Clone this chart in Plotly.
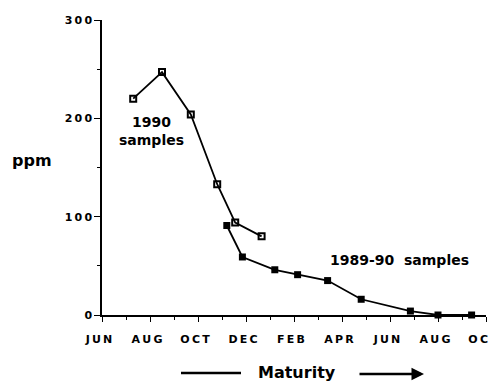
import plotly.graph_objects as go

# month index: 0 = JUN (first season), 16 = OCT (following year)
tick_months = [0, 2, 4, 6, 8, 10, 12, 14, 16]
tick_labels = ["JUN", "AUG", "OCT", "DEC", "FEB", "APR", "JUN", "AUG", "OCT"]
y_ticks = [0, 100, 200, 300]

x_1990 = [1.3, 2.5, 3.7, 4.8, 5.55, 6.65]
y_1990 = [220, 247, 204, 133, 94, 80]

x_8990 = [5.2, 5.85, 7.2, 8.15, 9.4, 10.8, 12.85, 14.0, 15.4]
y_8990 = [91, 59, 46, 41, 35, 16, 4, 0, 0]

FONT = "DejaVu Sans"
TS = "\u2009"

def spaced(s):
    return TS.join(list(s))

fig = go.Figure()
fig.add_trace(go.Scatter(
    x=x_1990, y=y_1990, mode="lines+markers",
    line=dict(color="black", width=1.8),
    marker=dict(symbol="square-open", size=6, color="black", line=dict(width=2, color="black")),
    cliponaxis=False, showlegend=False))
fig.add_trace(go.Scatter(
    x=x_8990, y=y_8990, mode="lines+markers",
    line=dict(color="black", width=1.8),
    marker=dict(symbol="square", size=7, color="black"),
    cliponaxis=False, showlegend=False))

# page body has an 8px margin, so the figure is sized to fit the window
fig.update_layout(
    width=489, height=373,
    margin=dict(l=94, r=11, t=12, b=66),
    paper_bgcolor="white", plot_bgcolor="white",
    font=dict(family=FONT, color="black"),
)
fig.update_xaxes(
    range=[0, 16], showgrid=False, zeroline=False, automargin=False,
    showline=True, linecolor="black", linewidth=1.5,
    tickmode="array", tickvals=tick_months, ticktext=[spaced(t) for t in tick_labels],
    ticks="outside", ticklen=5, tickwidth=1.2, tickcolor="black",
    ticklabelstandoff=8, ticklabelshift=-3, ticklabeloverflow="allow",
    tickfont=dict(family=FONT, size=11, color="black", weight="bold"),
    minor=dict(tickvals=[1, 3, 5, 7, 9, 11, 13, 15], ticks="outside", ticklen=3, tickwidth=1, tickcolor="black"),
)
fig.update_yaxes(
    range=[0, 300], showgrid=False, zeroline=False, automargin=False,
    showline=True, linecolor="black", linewidth=1.5,
    tickmode="array", tickvals=y_ticks, ticktext=[spaced(str(v)) for v in y_ticks],
    ticks="outside", ticklen=6, tickwidth=1.2, tickcolor="black",
    tickfont=dict(family=FONT, size=11, color="black", weight="bold"),
    minor=dict(tickvals=[50, 150, 250], ticks="outside", ticklen=3, tickwidth=1, tickcolor="black"),
)

fig.add_annotation(x=2.08, y=187, xref="x", yref="y", text="1990<br>samples",
                   xanchor="center", yanchor="middle",
                   showarrow=False, font=dict(family=FONT, size=14, weight="bold"))
fig.add_annotation(x=12.4, y=56, xref="x", yref="y", text="1989-90  samples",
                   xanchor="center", yanchor="middle",
                   showarrow=False, font=dict(family=FONT, size=14, weight="bold"))
fig.add_annotation(x=-0.182, y=0.523, xref="paper", yref="paper", text="ppm",
                   xanchor="center", yanchor="middle",
                   showarrow=False, font=dict(family=FONT, size=16, weight="bold"))
fig.add_annotation(x=0.508, y=-0.194, xref="paper", yref="paper", text="Maturity",
                   xanchor="center", yanchor="middle",
                   showarrow=False, font=dict(family=FONT, size=16, weight="bold"))
fig.add_shape(type="line", xref="paper", yref="paper",
              x0=(181 - 102) / 384, x1=(241 - 102) / 384, y0=-0.197, y1=-0.197,
              line=dict(color="black", width=2.5))
fig.add_annotation(x=(424 - 102) / 384, y=-0.2, xref="paper", yref="paper",
                   ax=-66, ay=0, text="", showarrow=True,
                   arrowhead=2, arrowsize=1.0, arrowwidth=2.5, arrowcolor="black")

fig.write_html("out.html")
